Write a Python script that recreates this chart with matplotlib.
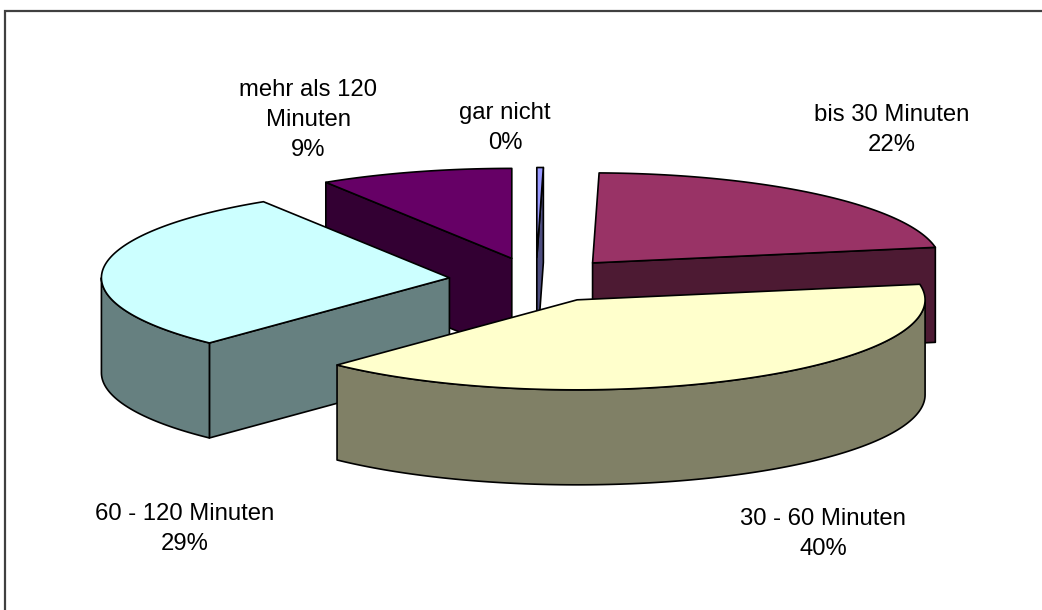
import numpy as np
import matplotlib.pyplot as plt
from matplotlib.patches import Polygon

# slices, clockwise from 12 o'clock
labels = ['gar nicht', 'bis 30 Minuten', '30 - 60 Minuten', '60 - 120 Minuten', 'mehr als 120\nMinuten']
values = [0.3, 22, 40, 29, 9]
top_colors = ['#9999FF', '#993366', '#FFFFCC', '#CCFFFF', '#660066']
side_colors = ['#4D4D80', '#4D1A33', '#808066', '#668080', '#330033']
label_xy = [(505, 128), (892, 130), (823, 534), (185, 529), (308, 120)]

W, H = 1042, 610
cx, cy = 536, 280      # pie centre (pixels)
rx, ry, depth = 348, 90, 95
explode = 0.25

plt.rcParams['font.family'] = ['Liberation Sans', 'DejaVu Sans']
fig = plt.figure(figsize=(W / 100, H / 100), dpi=100)
ax = fig.add_axes([0, 0, 1, 1])
ax.set_xlim(0, W)
ax.set_ylim(H, 0)
ax.axis('off')

total = sum(values)
bounds = np.concatenate([[0], np.cumsum(values)]) / total * 360


def pt(px, py, ang, r=1.0, dz=0.0):
    a = np.radians(ang)
    return (px + rx * r * np.sin(a), py - ry * r * np.cos(a) + dz)


def arc(px, py, a1, a2, dz=0.0):
    n = max(2, int(abs(a2 - a1) / 1.0) + 2)
    return [pt(px, py, a, 1.0, dz) for a in np.linspace(a1, a2, n)]


def poly(points, color):
    ax.add_patch(Polygon(points, closed=True, facecolor=color, edgecolor='black',
                         linewidth=1.2, joinstyle='round'))


slices = []
for i in range(len(values)):
    a1, a2 = bounds[i], bounds[i + 1]
    mid = np.radians((a1 + a2) / 2)
    px = cx + explode * rx * np.sin(mid)
    py = cy - explode * ry * np.cos(mid)
    slices.append((np.cos(mid), i, a1, a2, px, py))

# back to front
for _, i, a1, a2, px, py in sorted(slices, reverse=True):
    top, side = top_colors[i], side_colors[i]
    # radial faces facing the viewer
    if np.sin(np.radians(a1)) < -1e-6:
        poly([(px, py), pt(px, py, a1), pt(px, py, a1, 1, depth), (px, py + depth)], side)
    if np.sin(np.radians(a2)) > 1e-6:
        poly([(px, py), pt(px, py, a2), pt(px, py, a2, 1, depth), (px, py + depth)], side)
    # front part of the outer wall
    w1, w2 = max(a1, 90), min(a2, 270)
    if w2 > w1:
        poly(arc(px, py, w1, w2) + arc(px, py, w2, w1, depth), side)
    poly([(px, py)] + arc(px, py, a1, a2), top)

for i, (x, y) in enumerate(label_xy):
    pct = round(values[i] / total * 100)
    ax.text(x, y, f'{labels[i]}\n{pct}%', ha='center', va='center',
            fontsize=17.2, linespacing=1.5, color='black')

# chart area frame (right and bottom edges lie outside the image)
ax.plot([4.5, 4.5, W], [H, 10.5, 10.5], color='#404040', linewidth=1.6,
        solid_joinstyle='miter')

fig.savefig('out.png', dpi=100)
